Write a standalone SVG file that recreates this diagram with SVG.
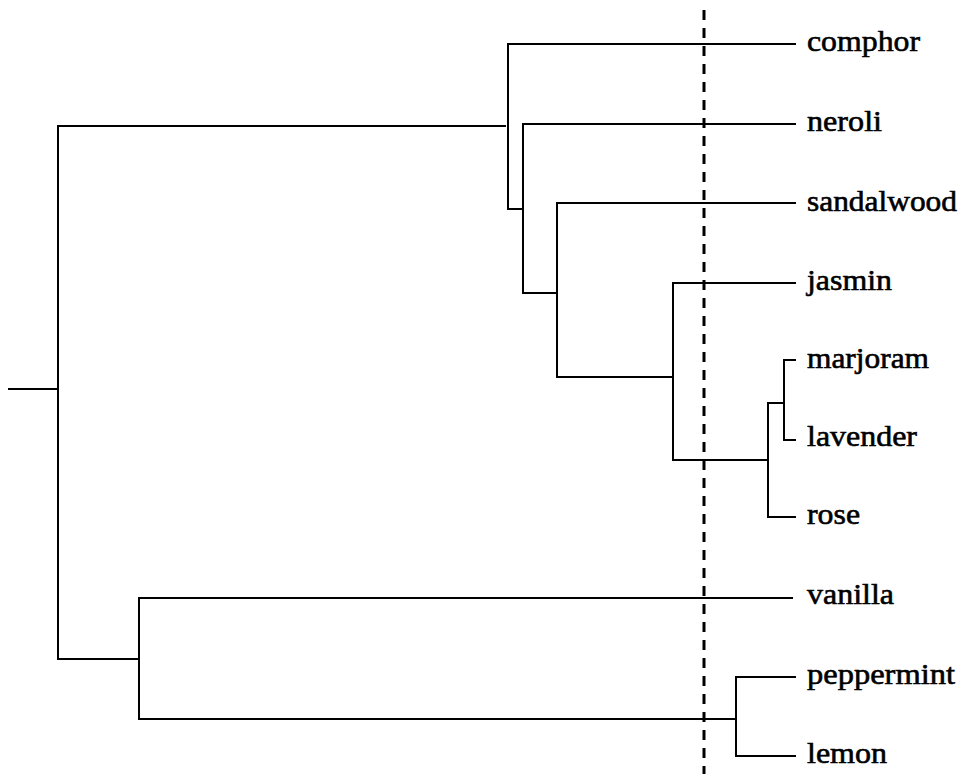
<svg xmlns="http://www.w3.org/2000/svg" width="966" height="774" viewBox="0 0 966 774">
<style>
.ln{fill:none;stroke:#000;stroke-width:2;stroke-linecap:square}
.dash{fill:none;stroke:#000;stroke-width:3;stroke-dasharray:10 8}
.lb{font-family:"Liberation Serif","Times New Roman",serif;font-size:30px;fill:#000;stroke:#000;stroke-width:0.6}
</style>
<rect width="966" height="774" fill="#fff"/>
<g id="connectors">
<path class="ln" d="M9 389 H58"/>
<path class="ln" d="M505 126 H58 V659 H139"/>
<path class="ln" d="M795 44 H508 V209 H523"/>
<path class="ln" d="M795 124 H523 V293 H557"/>
<path class="ln" d="M795 203 H557 V377 H673"/>
<path class="ln" d="M795 283 H673 V460 H768"/>
<path class="ln" d="M795 360 H784 V440 H795"/>
<path class="ln" d="M784 403 H768 V517 H795"/>
<path class="ln" d="M792 598 H139 V719 H736"/>
<path class="ln" d="M795 677 H736 V756 H795"/>
</g>
<path id="cut" class="dash" d="M704 10 V774"/>
<g id="comphor"><text class="lb" x="807" y="51" textLength="113" lengthAdjust="spacingAndGlyphs">comphor</text></g>
<g id="neroli"><text class="lb" x="807" y="131" textLength="75" lengthAdjust="spacingAndGlyphs">neroli</text></g>
<g id="sandalwood"><text class="lb" x="807" y="211" textLength="150" lengthAdjust="spacingAndGlyphs">sandalwood</text></g>
<g id="jasmin"><text class="lb" x="807" y="290" textLength="85" lengthAdjust="spacingAndGlyphs">jasmin</text></g>
<g id="marjoram"><text class="lb" x="807" y="368" textLength="122" lengthAdjust="spacingAndGlyphs">marjoram</text></g>
<g id="lavender"><text class="lb" x="807" y="446" textLength="110" lengthAdjust="spacingAndGlyphs">lavender</text></g>
<g id="rose"><text class="lb" x="807" y="524" textLength="53" lengthAdjust="spacingAndGlyphs">rose</text></g>
<g id="vanilla"><text class="lb" x="807" y="604" textLength="87" lengthAdjust="spacingAndGlyphs">vanilla</text></g>
<g id="peppermint"><text class="lb" x="807" y="684" textLength="148" lengthAdjust="spacingAndGlyphs">peppermint</text></g>
<g id="lemon"><text class="lb" x="807" y="763" textLength="80" lengthAdjust="spacingAndGlyphs">lemon</text></g>
</svg>
